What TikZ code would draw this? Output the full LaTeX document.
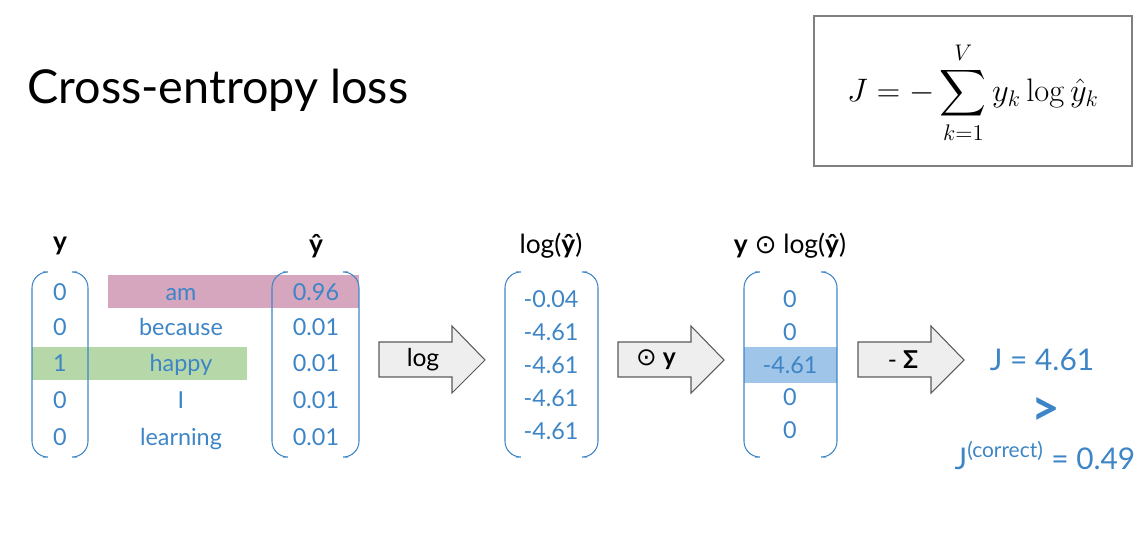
\documentclass[tikz,border=0pt]{standalone}
\usepackage{amsmath}
\usepackage[no-math]{fontspec}
\setmainfont{Lato}
\newfontfamily\symfont{DejaVu Sans}
\usetikzlibrary{positioning}

\definecolor{valblue}{RGB}{61,133,198}
\definecolor{amrow}{RGB}{213,166,189}
\definecolor{happyrow}{RGB}{182,215,168}
\definecolor{lossrow}{RGB}{159,197,232}
\definecolor{arrowfill}{RGB}{238,238,238}
\definecolor{arrowline}{RGB}{90,90,90}

\begin{document}
\begin{tikzpicture}[
    x=0.02cm, y=-0.02cm,
    val/.style={text=valblue,font=\fontsize{13.3}{15}\selectfont,inner sep=0pt,text height=0.72em,text depth=0pt,yshift=-0.035cm},
    head/.style={font=\fontsize{15}{17}\selectfont,inner sep=0pt},
    bracket/.style={draw=valblue,line width=0.6pt,rounded corners=9pt},
    blockarrow/.style={draw=arrowline,fill=arrowfill,line width=0.6pt},
    result/.style={text=valblue,inner sep=0pt}
    ]
    \useasboundingbox (0,0) rectangle (1147,547);

    % title and formula:
    \node[anchor=base west,inner sep=0pt,font=\fontsize{26.6}{30}\selectfont] (title) at (27,104) {Cross-entropy loss};
    \draw[draw=gray,line width=0.8pt] (814,16) rectangle (1132,166);
    \node[scale=1.07] (formula) at (973,93) {\fontsize{18.2}{21}\selectfont $\displaystyle J = -\sum_{k=1}^{V} y_k \log \hat{y}_k$};

    % highlighted rows:
    \fill[amrow] (108,275) rectangle (359,308);
    \fill[happyrow] (32,347) rectangle (247,380);
    \fill[lossrow] (744,347) rectangle (837,383);

    % brackets:
    \foreach \l/\r in {32/88, 272/359, 505/598, 744/837} {
      \draw[bracket] (\l+11,272) -- (\l,272) -- (\l,457) -- (\l+11,457);
      \draw[bracket] (\r-11,272) -- (\r,272) -- (\r,457) -- (\r-11,457);
    }

    % headers:
    \node[head] (hy) at (60,246) {\textbf{y}};
    \node[head] (hyhat) at (316,246) {\textbf{ŷ}};
    \node[head] (hlog) at (551,246) {log(\textbf{ŷ})};
    \node[head] (hprod) at (790,246) {\textbf{y} {\symfont ⊙} log(\textbf{ŷ})};

    % first vectors:
    \foreach \v/\w/\p/\r [count=\i] in {0/am/0.96/292, 0/because/0.01/327, 1/happy/0.01/363, 0/I/0.01/400, 0/learning/0.01/437} {
      \node[val] (y\i) at (60,\r) {\v};
      \node[val] (w\i) at (181,\r) {\w};
      \node[val] (p\i) at (316,\r) {\p};
    }

    % log vector:
    \foreach \v/\r [count=\i] in {-0.04/299, -4.61/332, -4.61/365, -4.61/398, -4.61/431}
    \node[val] (l\i) at (551,\r) {\v};

    % product vector:
    \foreach \v/\r [count=\i] in {0/299, 0/332, -4.61/365, 0/397, 0/430}
    \node[val] (m\i) at (790,\r) {\v};

    % block arrows:
    \foreach \x/\t/\n/\c in {379/log/a1/423, 618/{{\symfont ⊙} \textbf{y}}/a2/656, 858/{- \textbf{Σ}}/a3/903} {
      \draw[blockarrow] (\x,342) -- (\x+73,342) -- (\x+73,326) -- (\x+106,360) -- (\x+73,393)
        -- (\x+73,377) -- (\x,377) -- cycle;
      \node[head,font=\fontsize{14}{16}\selectfont] (\n) at (\c,360) {\t};
    }

    % result:
    \node[result,font=\fontsize{17}{20}\selectfont] (j) at (1042,360) {J = 4.61};
    \node[result,font=\fontsize{28}{30}\selectfont\bfseries] (gt) at (1046,412) {>};
    \node[result,font=\fontsize{17}{20}\selectfont,anchor=base] (jc) at (1045,469) {J\textsuperscript{(correct)} = 0.49};

  \end{tikzpicture}
\end{document}
